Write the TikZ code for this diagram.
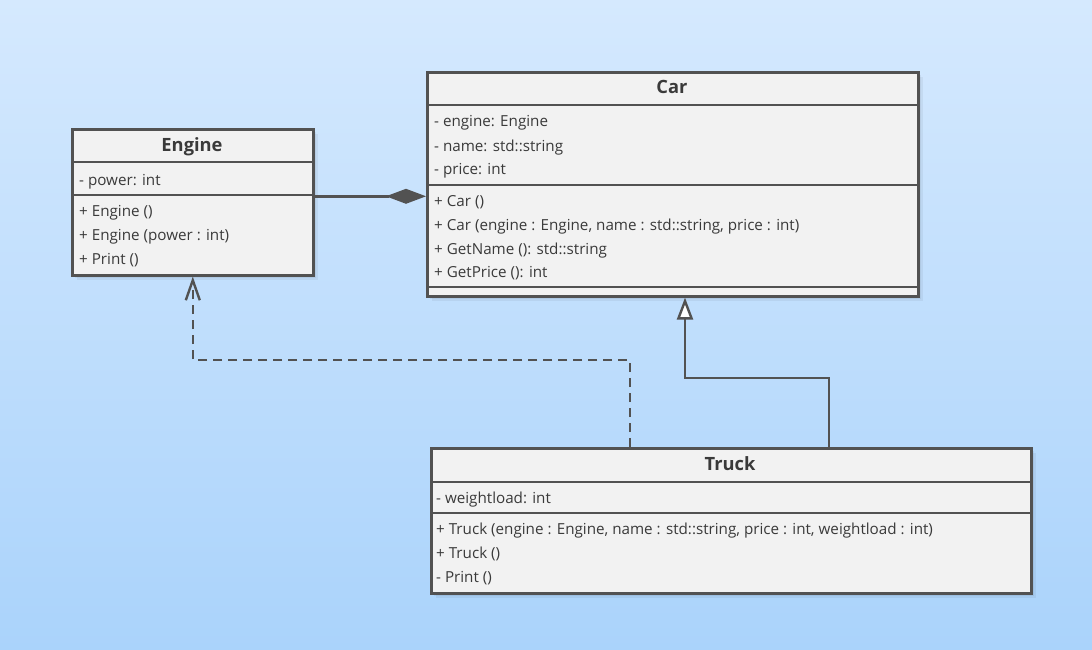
\documentclass[tikz,border=0pt]{standalone}
\usepackage{fontspec}
\setmainfont{Open Sans}
\usetikzlibrary{arrows.meta}
\definecolor{bgtop}{RGB}{213,233,254}
\definecolor{bgbot}{RGB}{170,211,251}
\definecolor{umlline}{RGB}{82,82,82}
\definecolor{boxfill}{RGB}{242,242,242}
\definecolor{txt}{RGB}{58,58,58}
\begin{document}
\begin{tikzpicture}[x=1pt,y=-1pt,
  classbox/.style={draw=umlline, line width=2.6pt, fill=boxfill, inner sep=0pt, anchor=north west},
  sepline/.style={draw=umlline, line width=2.2pt},
  titletext/.style={font=\fontsize{18.3}{20}\selectfont\bfseries, text=txt, inner sep=0pt, anchor=base},
  member/.style={font=\fontsize{15.2}{16}\selectfont, text=txt, inner sep=0pt, anchor=base west},
  conn/.style={draw=umlline, line width=2.4pt},
  shadowbox/.style={fill=black, fill opacity=0.05, draw=none},
]
\useasboundingbox (0,0) rectangle (1092,650);
\shade[top color=bgtop, bottom color=bgbot] (0,0) rectangle (1092,650);

% soft shadows
\foreach \d in {2,4,6}{
  \fill[shadowbox] (71+\d,128+\d) rectangle (312+\d,274+\d);
  \fill[shadowbox] (426+\d,71+\d) rectangle (917+\d,295+\d);
  \fill[shadowbox] (430+\d,447+\d) rectangle (1030+\d,592+\d);
}

% Engine
\node[classbox, minimum width=241pt, minimum height=146pt] (engine) at (71,128) {};
\draw[sepline] (71,162) -- (312,162);
\draw[sepline] (71,195) -- (312,195);
\node[titletext] (engineT) at (192,151) {Engine};
\node[member] (engineA1) at (79,185) {- power: int};
\node[member] (engineM1) at (79,216) {+ Engine ()};
\node[member] (engineM2) at (79,240) {+ Engine (power : int)};
\node[member] (engineM3) at (79,264) {+ Print ()};

% Car
\node[classbox, minimum width=491pt, minimum height=224pt] (car) at (426,71) {};
\draw[sepline] (426,105) -- (917,105);
\draw[sepline] (426,185) -- (917,185);
\draw[sepline] (426,287) -- (917,287);
\node[titletext] (carT) at (672,94) {Car};
\node[member] (carA1) at (434,127) {- engine: Engine};
\node[member] (carA2) at (434,151) {- name: std::string};
\node[member] (carA3) at (434,175) {- price: int};
\node[member] (carM1) at (434,206) {+ Car ()};
\node[member] (carM2) at (434,230) {+ Car (engine : Engine, name : std::string, price : int)};
\node[member] (carM3) at (434,254) {+ GetName (): std::string};
\node[member] (carM4) at (434,277) {+ GetPrice (): int};

% Truck
\node[classbox, minimum width=600pt, minimum height=145pt] (truck) at (430,447) {};
\draw[sepline] (430,482) -- (1030,482);
\draw[sepline] (430,513) -- (1030,513);
\node[titletext] (truckT) at (730,470) {Truck};
\node[member] (truckA1) at (436,503) {- weightload: int};
\node[member] (truckM1) at (436,534) {+ Truck (engine : Engine, name : std::string, price : int, weightload : int)};
\node[member] (truckM2) at (436,558) {+ Truck ()};
\node[member] (truckM3) at (436,582) {- Print ()};

% composition Engine -> Car
\coordinate (compo) at ([yshift=6pt]engine.east);
\draw[conn, -{Diamond[length=40pt,width=15pt]}] (compo) -- (compo -| car.west);

% dependency Truck -> Engine
\draw[conn, dash pattern=on 9pt off 6pt, -{Straight Barb[length=20pt,width=14pt]}]
  ([xshift=200pt]truck.north west) -- ++(0,-87) -| (engine.south);

% generalization Truck -> Car
\draw[conn, -{Triangle[length=22pt,width=16pt,fill=white]}]
  ([xshift=399pt]truck.north west) -- ++(0,-69) -| ([xshift=259pt]car.south west);
\end{tikzpicture}
\end{document}
